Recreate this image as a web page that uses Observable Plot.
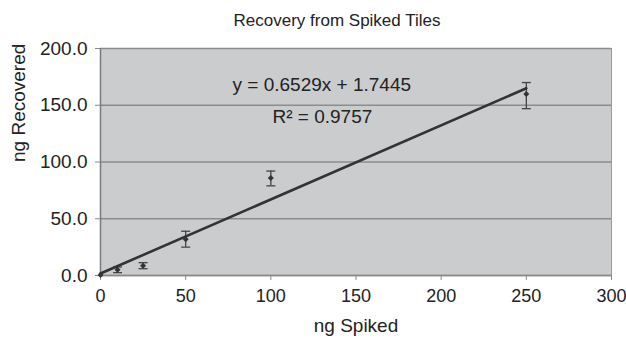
<!DOCTYPE html>
<html><head><meta charset="utf-8">
<script src="https://cdn.jsdelivr.net/npm/d3@7"></script>
<script src="https://cdn.jsdelivr.net/npm/@observablehq/plot@0.6"></script>
<style>
html,body{margin:0;padding:0;background:#fff;}
svg{font-family:"Liberation Sans",Arial,sans-serif;}
</style></head>
<body><div id="chart"></div>
<script>
const spiked = [0, 10, 25, 50, 100, 250];
const recovered = [0.5, 5.0, 8.5, 32.0, 86.0, 160.0];
const errLow = [0.3, 2.5, 2.5, 7.0, 7.0, 13.0];
const errHigh = [0.3, 2.5, 2.8, 7.0, 6.0, 10.0];
const slope = 0.6529, intercept = 1.7445, r2 = 0.9757;
const fitRange = [0, 250];
const xTicks = [0, 50, 100, 150, 200, 250, 300];
const yTicks = [0, 50, 100, 150, 200];
const title = "Recovery from Spiked Tiles";
const xLabel = "ng Spiked", yLabel = "ng Recovered";

const pts = spiked.map((x, i) => ({x, y: recovered[i], lo: recovered[i] - errLow[i], hi: recovered[i] + errHigh[i]}));
const fit = fitRange.map(x => ({x, y: slope * x + intercept}));
const cap = {draw(ctx, size) { const r = 4.5; ctx.moveTo(-r, 0); ctx.lineTo(r, 0); }};
const diamond = {draw(ctx, size) { const r = 3; ctx.moveTo(0, -r); ctx.lineTo(r, 0); ctx.lineTo(0, r); ctx.lineTo(-r, 0); ctx.closePath(); }};

const chart = Plot.plot({
  width: 626, height: 338,
  marginLeft: 100, marginRight: 15, marginTop: 48, marginBottom: 63,
  style: {fontSize: "19px", color: "#222", background: "#fff"},
  x: {domain: [0, 300], ticks: xTicks, label: null},
  y: {domain: [0, 200], ticks: yTicks, label: null, tickFormat: d3.format(".1f")},
  marks: [
    Plot.frame({fill: "#cbcccd", stroke: "#9a9a9a"}),
    Plot.gridY(yTicks, {stroke: "#8c8c8c", strokeOpacity: 1, strokeWidth: 1.3}),
    Plot.axisX({ticks: xTicks, stroke: "#8a8a8a", tickSize: 5, tickPadding: 9, fontSize: 18}),
    Plot.axisY({ticks: yTicks, tickFormat: d3.format(".1f"), stroke: "#8a8a8a", tickSize: 5, tickPadding: 8, fontSize: 19}),
    Plot.ruleY([0], {stroke: "#8a8a8a", strokeWidth: 1.5}),
    Plot.ruleX([0], {stroke: "#7a7a7a", strokeWidth: 1.5}),
    Plot.ruleX(pts.filter(d => d.x > 0), {x: "x", y1: "lo", y2: "hi", stroke: "#444", strokeWidth: 1.3}),
    Plot.dot(pts.filter(d => d.x > 0), {x: "x", y: "lo", symbol: cap, stroke: "#444", strokeWidth: 1.3, fill: "none"}),
    Plot.dot(pts.filter(d => d.x > 0), {x: "x", y: "hi", symbol: cap, stroke: "#444", strokeWidth: 1.3, fill: "none"}),
    Plot.line(fit, {x: "x", y: "y", stroke: "#333", strokeWidth: 2.6}),
    Plot.dot(pts, {x: "x", y: "y", symbol: diamond, fill: "#333", stroke: "none"}),
    Plot.text([`y = ${slope}x + ${intercept}`], {frameAnchor: "top-left", dx: 132, dy: 36, lineAnchor: "middle", fontSize: 19, fill: "#222", textAnchor: "start"}),
    Plot.text(["R\u00B2 = " + r2], {frameAnchor: "top-left", dx: 172, dy: 68, lineAnchor: "middle", fontSize: 19, fill: "#222", textAnchor: "start"}),
    Plot.text([title], {frameAnchor: "top", dy: -28, dx: -19, lineAnchor: "middle", fontSize: 17, fill: "#222"}),
    Plot.text([xLabel], {frameAnchor: "bottom", dy: 50, dx: 0, lineAnchor: "middle", fontSize: 19, fill: "#222"}),
    Plot.text([yLabel], {frameAnchor: "left", dx: -82, rotate: -90, fontSize: 19, fill: "#222"})
  ]
});
document.getElementById("chart").appendChild(chart);
</script></body></html>
